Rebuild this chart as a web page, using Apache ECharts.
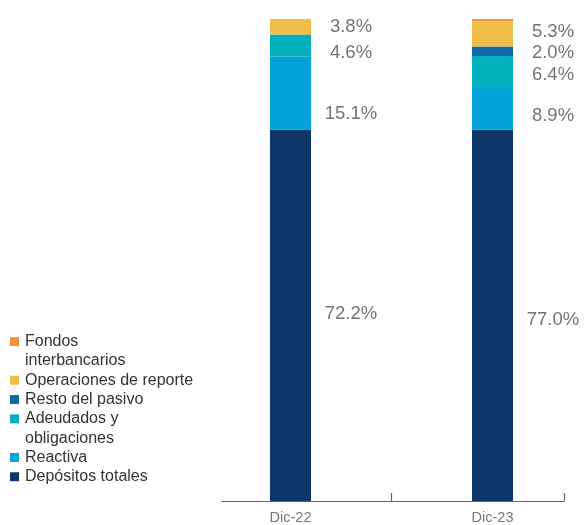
<!DOCTYPE html>
<html><head><meta charset="utf-8">
<script src="https://cdn.jsdelivr.net/npm/echarts@6/dist/echarts.min.js"></script>
<style>html,body{margin:0;padding:0;background:#fff}#c{width:584px;height:525px}</style>
</head><body><div id="c"></div>
<script>
const categories = ['Dic-22', 'Dic-23'];
const seriesNames = ['Depósitos totales', 'Reactiva', 'Adeudados y\nobligaciones', 'Resto del pasivo', 'Operaciones de reporte', 'Fondos\ninterbancarios'];
const depositos = [77.1, 77.0];
const reactiva = [15.1, 8.9];
const adeudados = [4.6, 6.4];
const restoPasivo = [0, 2.0];
const operacionesReporte = [3.8, 5.3];
const fondosInterbancarios = [0, 0.4];
const depositosLabels = ['72.2%', '77.0%'];
const reactivaLabels = ['15.1%', '8.9%'];
const adeudadosLabels = ['4.6%', '6.4%'];
const restoLabels = ['', '2.0%'];
const operacionesLabels = ['3.8%', '5.3%'];
const fondosLabels = ['', ''];

const seriesValues = [depositos, reactiva, adeudados, restoPasivo, operacionesReporte, fondosInterbancarios];
const seriesLabels = [depositosLabels, reactivaLabels, adeudadosLabels, restoLabels, operacionesLabels, fondosLabels];
const colors = ['#0c3768', '#02a3db', '#02b0bc', '#1467a8', '#eebe48', '#f5913b'];
const labelNudgeY = [[-1, 4], [21, 7.5], [7, 3], [0, 1.5], [0, -2], [0, 0]];

const FONT = 'Liberation Sans, Arial, sans-serif';
const LH = 19.3;

const rich = {
  t: {fontSize: 16, color: '#333', fontFamily: FONT, lineHeight: LH, padding: [0, 0, 0, 6], verticalAlign: 'middle'},
  u: {fontSize: 16, color: '#333', fontFamily: FONT, lineHeight: LH, padding: [0, 0, 0, 15], verticalAlign: 'middle'}
};
colors.forEach((c, i) => {
  rich['s' + i] = {width: 9, height: 9, backgroundColor: c, lineHeight: LH, verticalAlign: 'middle', fontSize: 9};
});

const series = seriesNames.map((name, i) => ({
  name: name,
  type: 'bar',
  stack: 'total',
  xAxisIndex: 0,
  yAxisIndex: 0,
  barWidth: 41,
  itemStyle: {color: colors[i]},
  emphasis: {disabled: true},
  label: {
    show: true,
    position: 'right',
    distance: 40,
    align: 'center',
    color: '#747474',
    fontSize: 18.5,
    fontFamily: FONT,
    formatter: p => seriesLabels[i][p.dataIndex]
  },
  labelLayout: p => ({hideOverlap: false, dy: labelNudgeY[i][p.dataIndex]}),
  data: seriesValues[i]
}));

const chart = echarts.init(document.getElementById('c'), null, {renderer: 'canvas'});
chart.setOption({
  animation: false,
  backgroundColor: '#fff',
  legend: {
    orient: 'vertical',
    left: 5,
    top: 332,
    padding: 0,
    itemGap: 0,
    itemWidth: 0,
    itemHeight: 9,
    icon: 'none',
    selectedMode: false,
    data: seriesNames.slice().reverse(),
    formatter: name => {
      const i = seriesNames.indexOf(name);
      const lines = name.split('\n');
      let s = '{s' + i + '| }{t|' + lines[0] + '}';
      for (let k = 1; k < lines.length; k++) s += '\n{u|' + lines[k] + '}';
      return s;
    },
    textStyle: {fontSize: 16, color: '#333', fontFamily: FONT, lineHeight: LH, rich: rich}
  },
  grid: [
    {left: 189.5, top: 19, width: 404, height: 482, outerBoundsMode: 'none', containLabel: false},
    {left: 222, top: 19, width: 342, height: 482, outerBoundsMode: 'none', containLabel: false},
    {left: 391, top: 19, width: 173, height: 482, outerBoundsMode: 'none', containLabel: false}
  ],
  xAxis: [
    {gridIndex: 0, type: 'category', data: categories,
     axisLine: {show: false}, axisTick: {show: false},
     axisLabel: {color: '#777', fontSize: 14.5, margin: 9, fontFamily: FONT}},
    {gridIndex: 1, type: 'category', data: ['', ''],
     axisLine: {show: true, lineStyle: {color: '#666', width: 1.2}},
     axisTick: {show: false}, axisLabel: {show: false}},
    {gridIndex: 2, type: 'category', data: [''],
     axisLine: {show: false},
     axisTick: {show: true, inside: true, length: 8, lineStyle: {color: '#666', width: 1.2}},
     axisLabel: {show: false}}
  ],
  yAxis: [
    {gridIndex: 0, type: 'value', min: 0, max: 100, show: false},
    {gridIndex: 1, type: 'value', min: 0, max: 100, show: false},
    {gridIndex: 2, type: 'value', min: 0, max: 100, show: false}
  ],
  series: series
});
</script>
</body></html>
